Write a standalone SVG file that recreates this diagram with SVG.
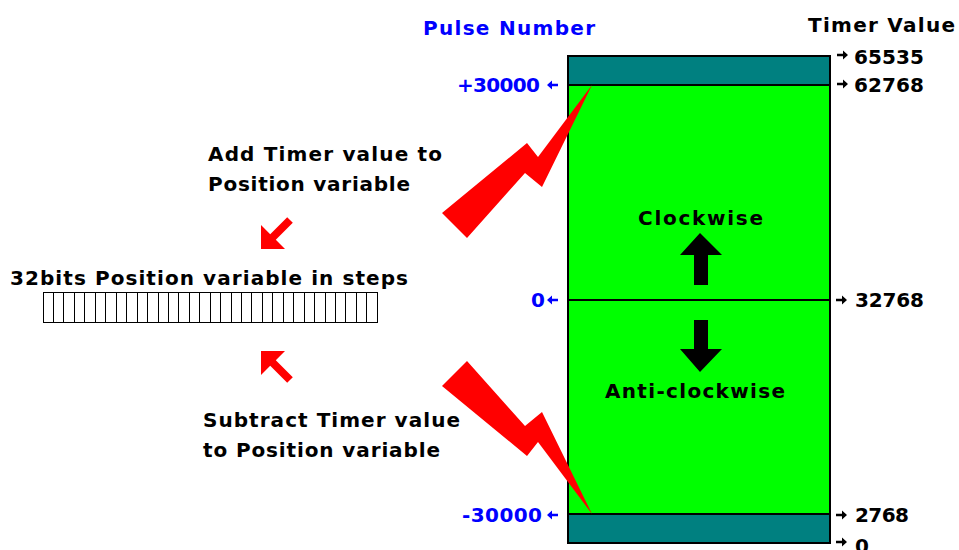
<svg xmlns="http://www.w3.org/2000/svg" xmlns:xlink="http://www.w3.org/1999/xlink" width="959" height="550" viewBox="0 0 959 550">
<style>
text{font-family:"DejaVu Sans","Liberation Sans",Arial,sans-serif;font-weight:bold;font-size:20px;fill:#000}
.blue{fill:#0000ff}
.red{fill:#ff0000}
.box{stroke:#000;stroke-width:2}
</style>
<defs>
<polygon id="ra" points="0,-1.2 6,-1.2 6,-4.5 11,0 6,4.5 6,1.2 0,1.2" fill="#000"/>
<polygon id="la" points="11,-1.2 5,-1.2 5,-4.5 0,0 5,4.5 5,1.2 11,1.2" fill="#0000ff"/>
</defs>
<rect width="959" height="550" fill="#fff"/>

<g id="headers">
<text class="blue" x="423" y="35" textLength="172" lengthAdjust="spacing">Pulse Number</text>
<text x="808" y="32" textLength="147" lengthAdjust="spacing">Timer Value</text>
</g>

<g id="counter">
<rect x="568" y="56" width="262" height="487" fill="#00ff00" class="box"/>
<rect x="568" y="56" width="262" height="29" fill="#008080" class="box"/>
<rect x="568" y="514" width="262" height="29" fill="#008080" class="box"/>
<line x1="568" y1="300" x2="830" y2="300" stroke="#000" stroke-width="2"/>
<text x="638" y="225" textLength="125" lengthAdjust="spacing">Clockwise</text>
<polygon points="700,233 722,255 708,255 708,285 694,285 694,255 680,255" fill="#000"/>
<polygon points="700,372 722,349 708,349 708,320 694,320 694,349 680,349" fill="#000"/>
<text x="605" y="398" textLength="180" lengthAdjust="spacing">Anti-clockwise</text>
</g>

<g id="pulse-scale">
<text class="blue" x="457" y="92" textLength="83" lengthAdjust="spacing">+30000</text>
<use xlink:href="#la" x="547" y="85"/>
<text class="blue" x="531" y="307">0</text>
<use xlink:href="#la" x="547" y="300"/>
<text class="blue" x="462" y="522" textLength="80" lengthAdjust="spacing">-30000</text>
<use xlink:href="#la" x="547" y="515"/>
</g>

<g id="timer-scale">
<use xlink:href="#ra" x="837" y="55"/>
<text x="854" y="64" textLength="70" lengthAdjust="spacing">65535</text>
<use xlink:href="#ra" x="837" y="84"/>
<text x="854" y="92" textLength="70" lengthAdjust="spacing">62768</text>
<use xlink:href="#ra" x="836" y="300"/>
<text x="855" y="307" textLength="69" lengthAdjust="spacing">32768</text>
<use xlink:href="#ra" x="836" y="515"/>
<text x="855" y="522" textLength="54" lengthAdjust="spacing">2768</text>
<use xlink:href="#ra" x="836" y="542"/>
<text x="855" y="553">0</text>
</g>

<g id="position-variable">
<text x="10" y="285" textLength="398" lengthAdjust="spacing">32bits Position variable in steps</text>
<rect x="43.5" y="292.5" width="334" height="30" fill="#fff" stroke="#000" stroke-width="1"/>
<path stroke="#000" stroke-width="1" fill="none" d="M53.5,292.5V322.5M63.5,292.5V322.5M74.5,292.5V322.5M84.5,292.5V322.5M95.5,292.5V322.5M105.5,292.5V322.5M116.5,292.5V322.5M126.5,292.5V322.5M137.5,292.5V322.5M147.5,292.5V322.5M158.5,292.5V322.5M168.5,292.5V322.5M178.5,292.5V322.5M189.5,292.5V322.5M199.5,292.5V322.5M210.5,292.5V322.5M220.5,292.5V322.5M231.5,292.5V322.5M241.5,292.5V322.5M251.5,292.5V322.5M262.5,292.5V322.5M272.5,292.5V322.5M283.5,292.5V322.5M293.5,292.5V322.5M304.5,292.5V322.5M314.5,292.5V322.5M325.5,292.5V322.5M335.5,292.5V322.5M345.5,292.5V322.5M356.5,292.5V322.5M366.5,292.5V322.5"/>
</g>

<g id="add-label">
<text x="208" y="161" textLength="234" lengthAdjust="spacing">Add Timer value to</text>
<text x="208" y="191" textLength="202" lengthAdjust="spacing">Position variable</text>
</g>

<g id="subtract-label">
<text x="203" y="427" textLength="257" lengthAdjust="spacing">Subtract Timer value</text>
<text x="203" y="457" textLength="237" lengthAdjust="spacing">to Position variable</text>
</g>

<g id="connectors">
<polygon class="red" points="592,85 538,157 527,143 442,213 467,238 525,173 542,187"/>
<polygon class="red" points="592,514 538,442 527,456 442,386 467,361 525,426 542,412"/>
<polygon class="red" points="261,249 285,249 275.8,239.8 292.8,222.8 287.2,217.2 270.2,234.2 261,225"/>
<polygon class="red" points="261,351 285,351 275.8,360.2 292.8,377.2 287.2,382.8 270.2,365.8 261,375"/>
</g>
</svg>
